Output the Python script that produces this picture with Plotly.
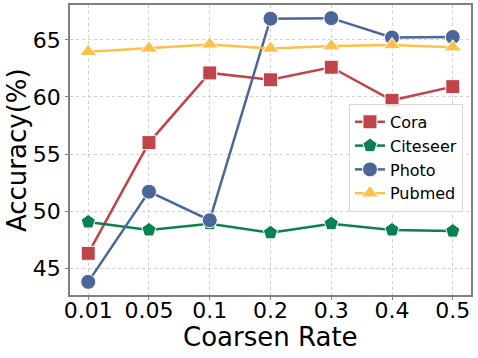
import plotly.graph_objects as go

rates = ["0.01", "0.05", "0.1", "0.2", "0.3", "0.4", "0.5"]
cora = [46.3, 56.0, 62.1, 61.5, 62.6, 59.7, 60.9]
citeseer = [49.05, 48.35, 48.9, 48.1, 48.9, 48.35, 48.25]
photo = [43.8, 51.7, 49.2, 66.85, 66.9, 65.2, 65.25]
pubmed = [63.95, 64.25, 64.6, 64.25, 64.45, 64.55, 64.35]

series = [
    ("Cora", cora, "#c0444c", "square", 14),
    ("Citeseer", citeseer, "#0a8150", "pentagon", 15),
    ("Photo", photo, "#4b6697", "circle", 15),
    ("Pubmed", pubmed, "#fec04c", "triangle-up", 15),
]

fig = go.Figure()
for name, vals, color, sym, sz in series:
    fig.add_trace(go.Scatter(
        x=rates, y=vals, name=name, mode="lines+markers",
        line=dict(color=color, width=2.5),
        marker=dict(symbol=sym, size=sz, color=color,
                    line=dict(color="white", width=1)),
    ))

axis_common = dict(
    showline=True, linecolor="#808080", linewidth=1.5, mirror=True,
    showgrid=True, gridcolor="#d0d0d0", griddash="dot", gridwidth=1,
    ticks="outside", ticklen=3, tickcolor="#808080",
    tickfont=dict(size=22, color="black"), zeroline=False, automargin=False,
)

fig.update_layout(
    width=478, height=358,
    margin=dict(l=70, r=7, t=5, b=63),
    paper_bgcolor="white", plot_bgcolor="white",
    font=dict(family="DejaVu Sans", color="black"),
    xaxis=dict(axis_common, type="category", range=[-0.3, 6.3], ticklabelstandoff=-8),
    yaxis=dict(axis_common, range=[42.65, 68.05], tickvals=[45, 50, 55, 60, 65]),
    legend=dict(x=0.98, y=0.659, xanchor="right", yanchor="top",
                bgcolor="rgba(255,255,255,0.85)", bordercolor="#d8d8d8", borderwidth=1,
                font=dict(size=16), itemwidth=30, tracegroupgap=0),
    showlegend=True,
)

# axis titles as annotations so they sit where the reference has them
fig.add_annotation(text="Coarsen Rate", xref="paper", yref="paper", x=0.5, y=-0.145,
                   showarrow=False, font=dict(size=26), xanchor="center", yanchor="middle")
fig.add_annotation(text="Accuracy(%)", xref="paper", yref="paper", x=-0.132, y=0.5,
                   showarrow=False, font=dict(size=26), textangle=-90,
                   xanchor="center", yanchor="middle")

# drop the page's default body margin so the figure sits at the window corner
fig.write_html("out.html", config={"displayModeBar": False},
               post_script="document.body.style.margin='0';")
